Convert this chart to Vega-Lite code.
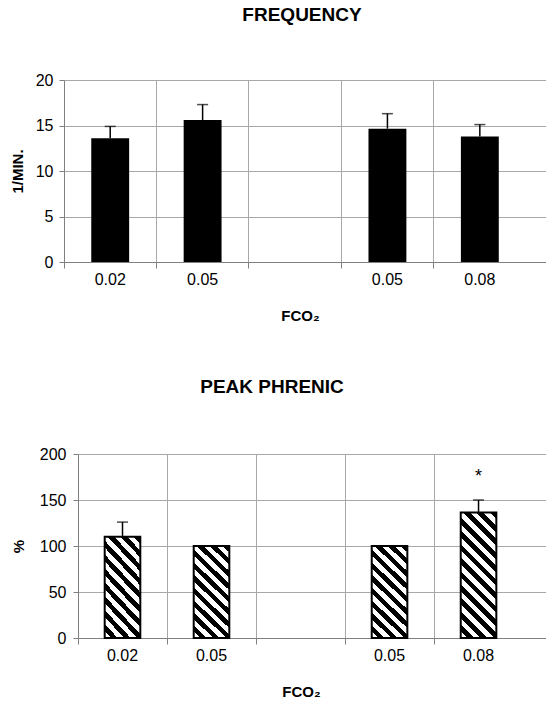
{
  "$schema": "https://vega.github.io/schema/vega-lite/v6.json",
  "padding": {"top": 6, "left": 10, "right": 0, "bottom": 0},
  "background": "white",
  "config": {
    "font": "Liberation Sans",
    "view": {"stroke": null},
    "axis": {"labelColor": "black", "titleColor": "black", "labelFont": "Liberation Sans", "titleFont": "Liberation Sans"}
  },
  "spacing": 55,
  "vconcat": [
    {
      "data": {"values": [
        {"x": "0.02", "mean": 13.6, "upper": 14.9},
        {"x": "0.05", "mean": 15.6, "upper": 17.3},
        {"x": "0.05 ", "mean": 14.65, "upper": 16.3},
        {"x": "0.08", "mean": 13.8, "upper": 15.1}
      ]},
      "width": 482,
      "height": 182,
      "title": {"text": "FREQUENCY", "fontSize": 19, "fontWeight": "bold", "offset": 47, "dx": -3, "anchor": "middle", "color": "black"},
      "encoding": {
        "x": {
          "field": "x", "type": "nominal",
          "scale": {"domain": ["0.02", "0.05", "   ", "0.05 ", "0.08"], "paddingInner": 0, "paddingOuter": 0.108, "align": 0},
          "axis": {"title": "FCO₂", "titleX": 236, "titleFontSize": 15, "titleFontWeight": "bold", "titlePadding": 21, "labelFontSize": 16, "labelAngle": 0, "labelPadding": 3, "labelExpr": "trim(datum.value)", "bandPosition": 0, "tickExtra": false, "grid": true, "gridColor": "#a8a8a8", "tickSize": 6, "tickColor": "#808080", "domainColor": "#808080"}
        },
        "y": {
          "field": "mean", "type": "quantitative",
          "scale": {"domain": [0, 20], "nice": false},
          "axis": {"title": "1/MIN.", "titleFontSize": 15, "titleFontWeight": "bold", "titlePadding": 10, "labelFontSize": 16, "labelPadding": 6, "values": [0, 5, 10, 15, 20], "grid": true, "gridColor": "#a8a8a8", "tickSize": 5, "tickColor": "#808080", "domainColor": "#808080"}
        }
      },
      "layer": [
        {"mark": {"type": "bar", "color": "black", "width": {"band": 0.41}}},
        {"mark": {"type": "rule", "color": "black", "strokeWidth": 1.5}, "encoding": {"y2": {"field": "upper"}}},
        {"mark": {"type": "tick", "color": "black", "thickness": 1.5, "size": 11}, "encoding": {"y": {"field": "upper", "type": "quantitative"}}}
      ]
    },
    {
      "data": {"values": [
        {"x": "0.02", "mean": 110, "upper": 126},
        {"x": "0.05", "mean": 100},
        {"x": "0.05 ", "mean": 100},
        {"x": "0.08", "mean": 136.5, "upper": 150, "sig": "*"}
      ]},
      "width": 482,
      "height": 184,
      "title": {"text": "PEAK PHRENIC", "fontSize": 19, "fontWeight": "bold", "offset": 49, "dx": -33, "anchor": "middle", "color": "black"},
      "encoding": {
        "x": {
          "field": "x", "type": "nominal",
          "scale": {"domain": ["0.02", "0.05", "   ", "0.05 ", "0.08"], "range": [14, 482], "paddingInner": 0, "paddingOuter": 0.129, "align": 0},
          "axis": {"title": "FCO₂", "titleX": 237, "titleFontSize": 15, "titleFontWeight": "bold", "titlePadding": 21, "labelFontSize": 16, "labelAngle": 0, "labelPadding": 3, "labelExpr": "trim(datum.value)", "bandPosition": 0, "tickExtra": false, "grid": true, "gridColor": "#a8a8a8", "tickSize": 6, "tickColor": "#808080", "domainColor": "#808080"}
        },
        "y": {
          "field": "mean", "type": "quantitative",
          "scale": {"domain": [0, 200], "nice": false},
          "axis": {"title": "%", "offset": -14, "titleFontSize": 15, "titleFontWeight": "bold", "titlePadding": 13, "labelFontSize": 16, "labelPadding": 7, "values": [0, 50, 100, 150, 200], "grid": true, "gridColor": "#a8a8a8", "tickSize": 5, "tickColor": "#808080", "domainColor": "#808080"}
        }
      },
      "layer": [
        {
          "mark": {"type": "bar", "stroke": "black", "strokeWidth": 2, "width": {"band": 0.4}},
          "encoding": {
            "fill": {
              "condition": {"test": "datum.x === '0.08'", "value": {"gradient": "linear", "x1": 0, "y1": 1, "x2": 0.336, "y2": -0.188, "stops": [
                {"offset": 0, "color": "white"}, {"offset": 0.0417, "color": "white"}, {"offset": 0.0417, "color": "black"}, {"offset": 0.0833, "color": "black"},
                {"offset": 0.0833, "color": "white"}, {"offset": 0.125, "color": "white"}, {"offset": 0.125, "color": "black"}, {"offset": 0.1667, "color": "black"},
                {"offset": 0.1667, "color": "white"}, {"offset": 0.2083, "color": "white"}, {"offset": 0.2083, "color": "black"}, {"offset": 0.25, "color": "black"},
                {"offset": 0.25, "color": "white"}, {"offset": 0.2917, "color": "white"}, {"offset": 0.2917, "color": "black"}, {"offset": 0.3333, "color": "black"},
                {"offset": 0.3333, "color": "white"}, {"offset": 0.375, "color": "white"}, {"offset": 0.375, "color": "black"}, {"offset": 0.4167, "color": "black"},
                {"offset": 0.4167, "color": "white"}, {"offset": 0.4583, "color": "white"}, {"offset": 0.4583, "color": "black"}, {"offset": 0.5, "color": "black"},
                {"offset": 0.5, "color": "white"}, {"offset": 0.5417, "color": "white"}, {"offset": 0.5417, "color": "black"}, {"offset": 0.5833, "color": "black"},
                {"offset": 0.5833, "color": "white"}, {"offset": 0.625, "color": "white"}, {"offset": 0.625, "color": "black"}, {"offset": 0.6667, "color": "black"},
                {"offset": 0.6667, "color": "white"}, {"offset": 0.7083, "color": "white"}, {"offset": 0.7083, "color": "black"}, {"offset": 0.75, "color": "black"},
                {"offset": 0.75, "color": "white"}, {"offset": 0.7917, "color": "white"}, {"offset": 0.7917, "color": "black"}, {"offset": 0.8333, "color": "black"},
                {"offset": 0.8333, "color": "white"}, {"offset": 0.875, "color": "white"}, {"offset": 0.875, "color": "black"}, {"offset": 0.9167, "color": "black"},
                {"offset": 0.9167, "color": "white"}, {"offset": 0.9583, "color": "white"}, {"offset": 0.9583, "color": "black"}, {"offset": 1, "color": "black"}
              ]}},
              "value": {"gradient": "linear", "x1": 0, "y1": 1, "x2": 0.452, "y2": -0.206, "stops": [
                {"offset": 0, "color": "white"}, {"offset": 0.05, "color": "white"}, {"offset": 0.05, "color": "black"}, {"offset": 0.1, "color": "black"},
                {"offset": 0.1, "color": "white"}, {"offset": 0.15, "color": "white"}, {"offset": 0.15, "color": "black"}, {"offset": 0.2, "color": "black"},
                {"offset": 0.2, "color": "white"}, {"offset": 0.25, "color": "white"}, {"offset": 0.25, "color": "black"}, {"offset": 0.3, "color": "black"},
                {"offset": 0.3, "color": "white"}, {"offset": 0.35, "color": "white"}, {"offset": 0.35, "color": "black"}, {"offset": 0.4, "color": "black"},
                {"offset": 0.4, "color": "white"}, {"offset": 0.45, "color": "white"}, {"offset": 0.45, "color": "black"}, {"offset": 0.5, "color": "black"},
                {"offset": 0.5, "color": "white"}, {"offset": 0.55, "color": "white"}, {"offset": 0.55, "color": "black"}, {"offset": 0.6, "color": "black"},
                {"offset": 0.6, "color": "white"}, {"offset": 0.65, "color": "white"}, {"offset": 0.65, "color": "black"}, {"offset": 0.7, "color": "black"},
                {"offset": 0.7, "color": "white"}, {"offset": 0.75, "color": "white"}, {"offset": 0.75, "color": "black"}, {"offset": 0.8, "color": "black"},
                {"offset": 0.8, "color": "white"}, {"offset": 0.85, "color": "white"}, {"offset": 0.85, "color": "black"}, {"offset": 0.9, "color": "black"},
                {"offset": 0.9, "color": "white"}, {"offset": 0.95, "color": "white"}, {"offset": 0.95, "color": "black"}, {"offset": 1, "color": "black"}
              ]}
            }
          }
        },
        {"transform": [{"filter": "isValid(datum.upper)"}], "mark": {"type": "rule", "color": "black", "strokeWidth": 1.5}, "encoding": {"y2": {"field": "upper"}}},
        {"transform": [{"filter": "isValid(datum.upper)"}], "mark": {"type": "tick", "color": "black", "thickness": 1.5, "size": 11}, "encoding": {"y": {"field": "upper", "type": "quantitative"}}},
        {"transform": [{"filter": "isValid(datum.sig)"}], "mark": {"type": "text", "fontSize": 18, "baseline": "middle", "dy": -23, "color": "black"}, "encoding": {"y": {"field": "upper", "type": "quantitative"}, "text": {"field": "sig"}}}
      ]
    }
  ]
}
